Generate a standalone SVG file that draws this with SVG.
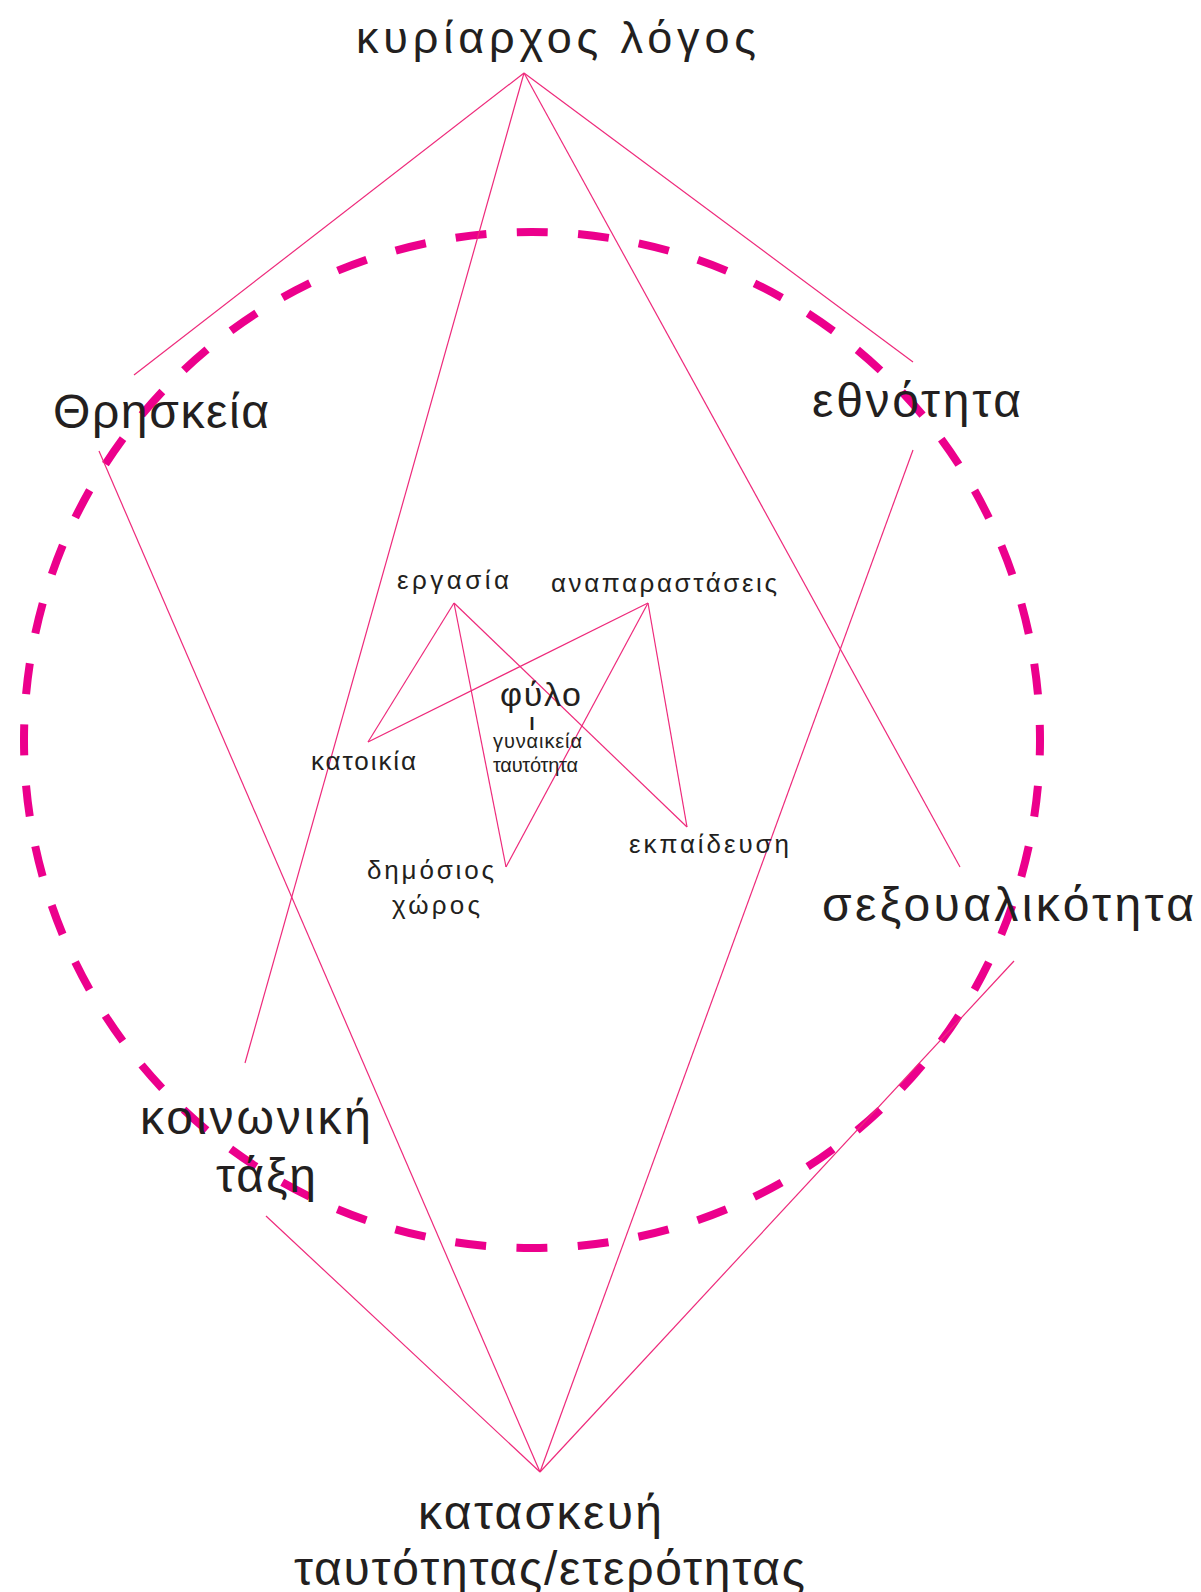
<svg xmlns="http://www.w3.org/2000/svg" width="1201" height="1592" viewBox="0 0 1201 1592">
<style>
text{font-family:"Liberation Sans","DejaVu Sans",sans-serif;fill:#231f20;}
.big{font-size:48px;}
.title{font-size:45px;}
.mid{font-size:26px;}
.small{font-size:20px;}
.conn line{stroke:#ee2a7b;stroke-width:1.2;fill:none;}
.ring{fill:none;stroke:#ec008c;stroke-width:8;stroke-dasharray:31 30.382;stroke-dashoffset:15.5;}
</style>
<rect width="1201" height="1592" fill="#ffffff"/>
<circle class="ring" cx="532" cy="740" r="508"/>
<g id="connectors" class="conn">
<line x1="524" y1="73" x2="134" y2="375"/>
<line x1="524" y1="73" x2="913" y2="362"/>
<line x1="524" y1="73" x2="245" y2="1063"/>
<line x1="524" y1="73" x2="960" y2="867"/>
<line x1="99" y1="451" x2="540" y2="1472"/>
<line x1="913" y1="450" x2="540" y2="1472"/>
<line x1="266" y1="1216" x2="540" y2="1472"/>
<line x1="1014" y1="961" x2="540" y2="1472"/>
<line x1="454" y1="603" x2="368" y2="742"/>
<line x1="454" y1="603" x2="506" y2="867"/>
<line x1="454" y1="603" x2="687" y2="827"/>
<line x1="648" y1="603" x2="368" y2="742"/>
<line x1="648" y1="603" x2="506" y2="867"/>
<line x1="648" y1="603" x2="687" y2="827"/>
</g>
<g id="kyriarchos"><text class="title" x="356" y="53" textLength="400">κυρίαρχος λόγος</text></g>
<g id="thriskeia"><text class="big" x="53" y="428" textLength="216">Θρησκεία</text></g>
<g id="ethnotita"><text class="big" x="812" y="417" textLength="209">εθνότητα</text></g>
<g id="sexoualikotita"><text class="big" x="822" y="921" textLength="372">σεξουαλικότητα</text></g>
<g id="koinoniki"><text class="big" x="140" y="1134" textLength="231">κοινωνική</text><text class="big" x="216" y="1192" textLength="100">τάξη</text></g>
<g id="kataskevi"><text class="big" x="418" y="1529" textLength="244">κατασκευή</text><text class="big" x="294" y="1585" textLength="511">ταυτότητας/ετερότητας</text></g>
<g id="ergasia"><text class="mid" x="397" y="589" textLength="112">εργασία</text></g>
<g id="anaparastaseis"><text class="mid" x="551" y="592" textLength="226">αναπαραστάσεις</text></g>
<g id="fylo"><text x="500" y="706" font-size="34" textLength="81">φύλο</text><text x="532" y="730" font-size="18" font-weight="bold" text-anchor="middle">I</text><text class="small" x="493" y="748" textLength="89">γυναικεία</text><text class="small" x="493" y="772" textLength="85">ταυτότητα</text></g>
<g id="katoikia"><text class="mid" x="311" y="770" textLength="105">κατοικία</text></g>
<g id="ekpaidefsi"><text class="mid" x="629" y="853" textLength="160">εκπαίδευση</text></g>
<g id="dimosios"><text class="mid" x="367" y="879" textLength="127">δημόσιος</text><text class="mid" x="392" y="914" textLength="88">χώρος</text></g>
</svg>
